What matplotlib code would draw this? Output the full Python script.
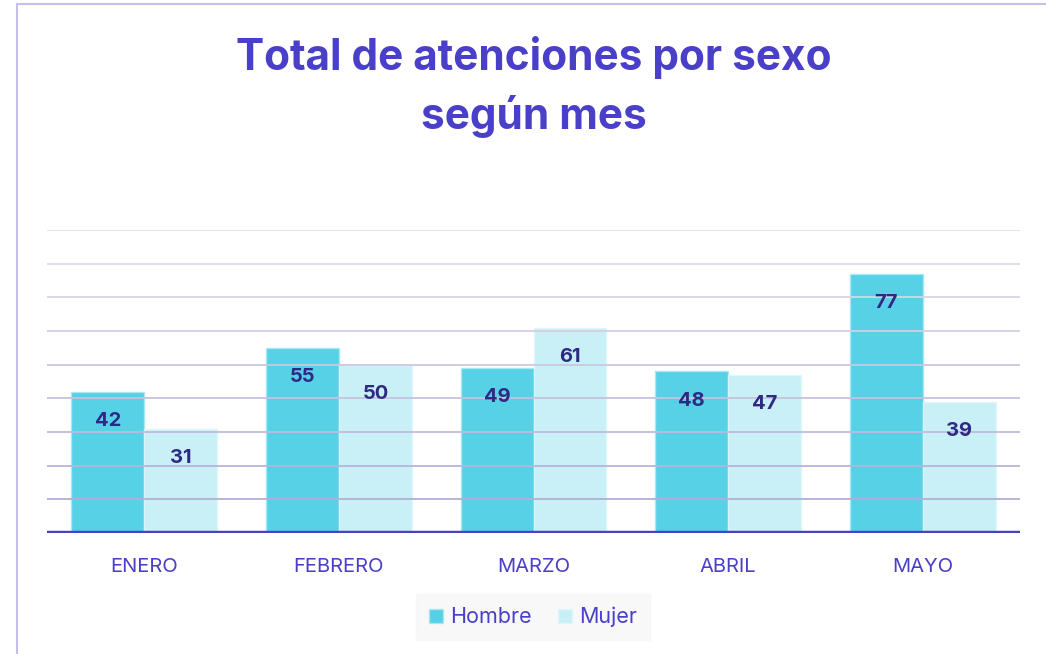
#!/usr/bin/env python3

import numpy as np
import matplotlib
matplotlib.use('Agg')
import matplotlib.pyplot as plt
from matplotlib.colors import to_rgb

months = ['ENERO', 'FEBRERO', 'MARZO', 'ABRIL', 'MAYO']
hombre = [42, 55, 49, 48, 77]
mujer = [31, 50, 61, 47, 39]
series_names = ['Hombre', 'Mujer']
title = 'Total de atenciones por sexo\nsegún mes'

PURPLE = '#4a3fc8'
LABEL = '#2e2a84'
C_HOMBRE = '#3fcbe3'
C_MUJER = '#c2eff5'

plt.rcParams['font.family'] = ['Inter', 'DejaVu Sans']

fig = plt.figure(figsize=(10.46, 6.54), dpi=100)
fig.patch.set_facecolor('white')

# light frame on left / top
fig.add_artist(plt.Line2D([17 / 1046, 17 / 1046], [0, 1 - 4 / 654],
                          transform=fig.transFigure, color='#c4c0ea', lw=1.5))
fig.add_artist(plt.Line2D([17 / 1046, 1], [1 - 4 / 654, 1 - 4 / 654],
                          transform=fig.transFigure, color='#c4c0ea', lw=1.5))

ax = fig.add_axes([47 / 1046, 1 - 533 / 654, (1020 - 47) / 1046, (533 - 230) / 654])
ax.set_xlim(-0.5, len(months) - 0.5)
ax.set_ylim(0, 90)

x = np.arange(len(months))
w = 0.375
b1 = ax.bar(x - w / 2, hombre, w, color=C_HOMBRE, alpha=0.88,
            edgecolor='#a8e8f2', linewidth=1, label=series_names[0], zorder=2)
b2 = ax.bar(x + w / 2, mujer, w, color=C_MUJER, alpha=0.9,
            edgecolor='#dff7fa', linewidth=1, label=series_names[1], zorder=2)

# gridlines, shading from light gray at top to lavender at bottom
top_c = np.array(to_rgb('#e2e2ea'))
bot_c = np.array(to_rgb('#b4aed8'))
levels = np.arange(10, 100, 10)
for lv in levels:
    t = (lv - 10) / 80
    col = bot_c * (1 - t) + top_c * t
    ax.axhline(lv, color=col, lw=1.3, zorder=3)

ax.axhline(0, color=PURPLE, lw=3.2, zorder=4)

for bars, vals in ((b1, hombre), (b2, mujer)):
    for rect, v in zip(bars, vals):
        ax.annotate(str(v), (rect.get_x() + rect.get_width() / 2, v),
                    xytext=(0, -21), textcoords='offset points',
                    ha='center', va='center', fontsize=14.5, fontweight='bold',
                    color=LABEL, zorder=5)

for s in ax.spines.values():
    s.set_visible(False)
ax.set_yticks([])
ax.set_xticks(x)
ax.set_xticklabels(months, color=PURPLE, fontsize=14.5)
ax.tick_params(axis='x', length=0, pad=18)

fig.text(534 / 1046, 1 - 87 / 654, title, ha='center', va='center',
         fontsize=30.5, fontweight='bold', color=PURPLE, linespacing=1.48)

leg = fig.legend(handles=[b1, b2], loc='center', bbox_to_anchor=(533 / 1046, 1 - 617 / 654),
                 ncol=2, frameon=True, fontsize=15.5, handlelength=0.65, handleheight=0.65,
                 handletextpad=0.35, columnspacing=1.2, borderpad=0.6)
leg.get_frame().set_facecolor('#f7f7f8')
leg.get_frame().set_edgecolor('#f7f7f8')
leg.get_frame().set_boxstyle('square', pad=0)
for txt in leg.get_texts():
    txt.set_color(PURPLE)

fig.savefig('out.png', dpi=100)
